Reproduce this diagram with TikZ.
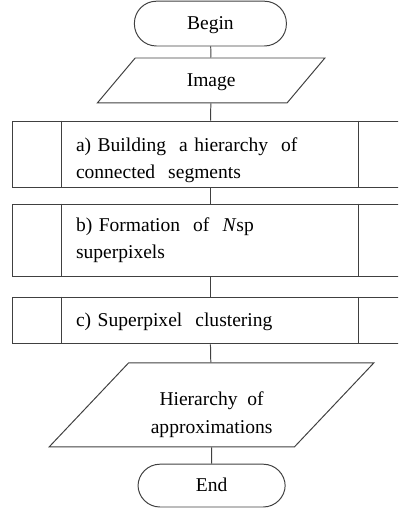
\documentclass[tikz,border=0pt]{standalone}
\usepackage{fontspec}
\setmainfont{Liberation Serif}
\usetikzlibrary{
    positioning,
    shapes.geometric
}
\tikzset{
  term/.style  = {draw, rounded corners=0.55cm, minimum width=3.8cm,
                  minimum height=1.12cm, text height=1.0em, text depth=0.1em},
  io/.style    = {draw, trapezium, trapezium stretches=true,
                  align=center, inner xsep=0pt},
  proc/.style  = {draw, minimum width=9.9cm, text width=6.7cm,
                  align=left, inner xsep=0pt},
  conn/.style  = {draw=black!75, line width=0.7pt}
}

\begin{document}
\begin{tikzpicture}[
    every node/.style={font=\fontsize{13.9}{19.6}\selectfont, draw=black!75, line width=0.7pt},
    line width=0.7pt
]
\clip (0,0) rectangle (9.95,12.75);
\useasboundingbox (0,0) rectangle (9.95,12.75);

% --- START / INPUT ---
\node[term] (begin) at (5.26,12.16) {Begin};
\node[io, trapezium left angle=64, trapezium right angle=116,
      minimum width=5.7cm, minimum height=1.12cm,
      text height=1.0em, text depth=0.1em] (img) at (5.28,10.74) {Image};

% --- PROCESSING STEPS ---
\node[proc, minimum height=1.52cm] (pa) at (5.25,8.89)
    {\rule{0pt}{1.31em}a) Building\ \ a hierarchy\ \ of\\connected\ \ segments};
\node[proc, minimum height=1.8cm] (pb) at (5.25,6.75)
    {b) Formation\ \ of\ \ \textit{N}sp\\superpixels};
\node[proc, minimum height=1.17cm, text height=1.0em, text depth=0.1em] (pc) at (5.25,4.74)
    {c) Superpixel\ \ clustering};

% side bars of the process blocks
\foreach \p in {pa,pb,pc}{
  \draw[conn] ([xshift=1.25cm]\p.north west) -- ([xshift=1.25cm]\p.south west);
  \draw[conn] ([xshift=-1.25cm]\p.north east) -- ([xshift=-1.25cm]\p.south east);
}

% --- OUTPUT / END ---
\node[io, trapezium left angle=52, trapezium right angle=128,
      minimum width=8.12cm, minimum height=2.1cm] (hier) at (5.29,2.63)
    {\rule{0pt}{1.71em}Hierarchy\ \ of\\approximations};
\node[term, minimum width=3.68cm, minimum height=1.07cm] (end) at (5.29,0.61) {End};

% --- CONNECTIONS ---
\draw[conn] (begin) -- (img);
\draw[conn] (img) -- (pa);
\draw[conn] (pa) -- (pb);
\draw[conn] (pb) -- (pc);
\draw[conn] (pc) -- (hier);
\draw[conn] (hier) -- (end);
\end{tikzpicture}
\end{document}
